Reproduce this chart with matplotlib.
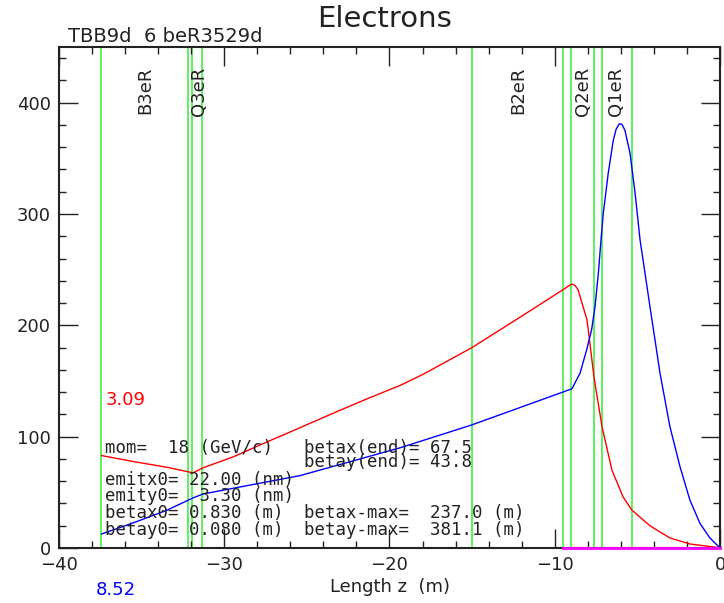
import matplotlib
matplotlib.use("Agg")
import matplotlib.pyplot as plt
from matplotlib.ticker import MultipleLocator

# beam optics along the line (z in m)
z_betax = [-37.42, -35.52, -33.46, -31.89, -31.29, -29.47, -27.41, -25.42, -23.42,
           -21.36, -19.36, -17.97, -15.01, -11.92, -9.50, -9.10, -8.96, -8.78, -8.59,
           -8.29, -8.05, -7.93, -7.63, -7.14, -6.54, -5.87, -5.33, -4.24, -3.03,
           -1.82, -0.42, 0.0]
betax = [83, 77.7, 72.5, 67.5, 72, 81.8, 95.3, 108, 121,
         134, 146, 156, 180, 209, 232, 236, 237, 236, 232,
         217, 205, 191, 154, 109, 70, 46, 34, 20, 9,
         3.6, 1, 0.2]

z_betay = [-37.42, -35.52, -33.46, -31.89, -31.29, -25.42, -19.36, -15.01, -8.96,
           -8.47, -8.07, -7.77, -7.56, -7.36, -7.20, -7.06, -6.76, -6.46, -6.29,
           -6.09, -5.93, -5.75, -5.45, -5.14, -4.84, -4.24, -3.63, -3.03, -2.42,
           -1.82, -1.21, -0.61, 0.0]
betay = [12.6, 22.5, 34, 45, 48.5, 65, 90, 110.6, 143,
         157, 178, 196, 217, 247, 277, 301, 337, 366, 376,
         381.1, 380.5, 375, 355, 319, 277, 217, 157, 109, 73,
         43, 22, 9, 0.1]

# element edges and names
elem_z = [-37.46, -32.19, -31.95, -31.35, -15.01, -9.50, -9.02, -7.62, -7.14, -5.33]
elem_names = ["B3eR", "Q3eR", "B2eR", "Q2eR", "Q1eR"]
elem_label_z = [-34.8, -31.55, -12.2, -8.29, -6.3]
magenta_z = [-9.50, 0.0]

left_lines = ["mom=  18 (GeV/c)", "emitx0= 22.00 (nm)", "emity0=  3.30 (nm)",
              "betax0= 0.830 (m)", "betay0= 0.080 (m)"]
left_y = [90, 61, 47, 31.5, 16]
right_lines = ["betax(end)= 67.5", "betay(end)= 43.8",
               "betax-max=  237.0 (m)", "betay-max=  381.1 (m)"]
right_y = [90, 77, 31.5, 16]

fig = plt.figure(figsize=(7.24, 6.03), dpi=100)
ax = fig.add_axes([59 / 724, 55 / 603, 661 / 724, 501 / 603])

for z in elem_z:
    ax.axvline(z, color="#33ee33", lw=1.1, zorder=1)

ax.plot(z_betax, betax, color="red", lw=1.0, zorder=3)
ax.plot(z_betay, betay, color="blue", lw=1.0, zorder=3)
ax.plot(magenta_z, [0, 0], color="magenta", lw=2.0, zorder=4, clip_on=False)

for name, z in zip(elem_names, elem_label_z):
    ax.text(z, 432, name, rotation=90, ha="center", va="top", fontsize=13,
            color="#222222")

mono = "DejaVu Sans Mono"
for txt, y in zip(left_lines, left_y):
    ax.text(-37.2, y, txt, family=mono, fontsize=12.5, va="center", color="#222222")
for txt, y in zip(right_lines, right_y):
    ax.text(-25.2, y, txt, family=mono, fontsize=12.5, va="center", color="#222222")

ax.text(-37.2, 133, "3.09", color="red", fontsize=13, va="center")
ax.text(-37.8, -38, "8.52", color="blue", fontsize=13, va="center", clip_on=False)

ax.text(0.0136, 1.021, "TBB9d  6 beR3529d", transform=ax.transAxes, fontsize=14,
        va="center", color="#222222")
ax.text(0.493, 1.056, "Electrons", transform=ax.transAxes, fontsize=21,
        ha="center", va="center", color="#222222")

ax.set_xlim(-40, 0)
ax.set_ylim(0, 450)
ax.xaxis.set_major_locator(MultipleLocator(10))
ax.xaxis.set_minor_locator(MultipleLocator(2))
ax.yaxis.set_major_locator(MultipleLocator(100))
ax.yaxis.set_minor_locator(MultipleLocator(20))
ax.tick_params(which="both", direction="in", top=True, right=True,
               labelsize=13, colors="#222222")
ax.tick_params(which="major", length=14, width=1.0, pad=6)
ax.tick_params(which="minor", length=5, width=1.0)
for sp in ax.spines.values():
    sp.set_linewidth(1.5)
    sp.set_color("#222222")

ax.set_xlabel("Length z  (m)", fontsize=13, labelpad=3, color="#222222")

fig.savefig("out.png", dpi=100)
